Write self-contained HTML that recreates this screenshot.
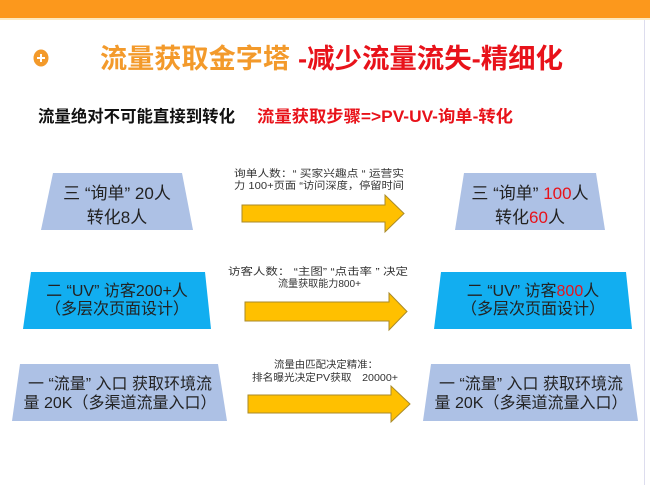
<!DOCTYPE html>
<html><head><meta charset="utf-8"><style>
html,body{margin:0;padding:0;background:#fff;}
svg{display:block;}
text{font-family:"Liberation Sans","Noto Sans CJK SC",sans-serif;}
</style></head><body>
<svg width="650" height="485" viewBox="0 0 650 485" xmlns="http://www.w3.org/2000/svg">
<rect x="0" y="0" width="650" height="18" fill="#fc981c"/>
<rect x="0" y="18" width="650" height="2" fill="#fde9c0"/>
<line x1="644.5" y1="20" x2="644.5" y2="485" stroke="#dde" stroke-width="1"/>
<ellipse cx="41" cy="58" rx="7.5" ry="8.5" fill="#f39a2b"/>
<path d="M37 58h8M41 54v8" stroke="#fff" stroke-width="2"/>
<text x="100" y="68" font-size="27" font-weight="bold" fill="#f39a2b" textLength="190" lengthAdjust="spacingAndGlyphs">流量获取金字塔</text>
<text x="298" y="68" font-size="27" font-weight="bold" fill="#e8121a" textLength="265" lengthAdjust="spacingAndGlyphs">-减少流量流失-精细化</text>
<text x="38" y="122" font-size="16.5" font-weight="bold" fill="#111" textLength="197" lengthAdjust="spacingAndGlyphs">流量绝对不可能直接到转化</text>
<text x="257" y="122" font-size="16.5" font-weight="bold" fill="#e8121a" textLength="256" lengthAdjust="spacingAndGlyphs">流量获取步骤=&gt;PV-UV-询单-转化</text>

<!-- row1 -->
<polygon points="53,173 182,173 193,230 41,230" fill="#adc1e5"/>
<polygon points="464,173 596,173 605,230 455,230" fill="#adc1e5"/>
<g font-size="17" fill="#222" text-anchor="middle">
<text x="117" y="199">三 “询单” 20人</text>
<text x="117" y="223">转化8人</text>
<text x="530" y="199">三 “询单” <tspan fill="#e8121a">100</tspan>人</text>
<text x="530" y="223">转化<tspan fill="#e8121a">60</tspan>人</text>
</g>
<polygon points="242,205 385,205 385,195 404,213.5 385,232 385,222 242,222" fill="#ffc000" stroke="#a88a2a" stroke-width="1"/>
<g font-size="10" fill="#333">
<text x="234" y="177" textLength="170" lengthAdjust="spacingAndGlyphs">询单人数：“ 买家兴趣点 “ 运营实</text>
<text x="234" y="189" textLength="170" lengthAdjust="spacingAndGlyphs">力 100+页面 “访问深度，停留时间</text>
</g>

<!-- row2 -->
<polygon points="31,272 205,272 211,329 23,329" fill="#12aef0"/>
<polygon points="441,272 626,272 632,329 434,329" fill="#12aef0"/>
<g font-size="16" fill="#222" text-anchor="middle">
<text x="117" y="296">二 “UV” 访客200+人</text>
<text x="117" y="314">（多层次页面设计）</text>
<text x="533" y="296">二 “UV” 访客<tspan fill="#e8121a">800</tspan>人</text>
<text x="533" y="314">（多层次页面设计）</text>
</g>
<polygon points="245,302 389,302 389,293 407,311.5 389,330 389,321 245,321" fill="#ffc000" stroke="#a88a2a" stroke-width="1"/>
<g font-size="10" fill="#333">
<text x="228" y="275" textLength="180" lengthAdjust="spacingAndGlyphs">访客人数： “主图” “点击率 ” 决定</text>
<text x="278" y="287" textLength="83" lengthAdjust="spacingAndGlyphs">流量获取能力800+</text>
</g>

<!-- row3 -->
<polygon points="20,364 218,364 227,421 12,421" fill="#adc1e5"/>
<polygon points="431,364 630,364 638,421 423,421" fill="#adc1e5"/>
<g font-size="16" fill="#222" text-anchor="middle">
<text x="120" y="389">一 “流量” 入口 获取环境流</text>
<text x="120" y="408">量 20K（多渠道流量入口）</text>
<text x="531" y="389">一 “流量” 入口 获取环境流</text>
<text x="531" y="408">量 20K（多渠道流量入口）</text>
</g>
<polygon points="248,395 391,395 391,386 410,404 391,422 391,413 248,413" fill="#ffc000" stroke="#a88a2a" stroke-width="1"/>
<g font-size="10" fill="#333">
<text x="274" y="368" textLength="104" lengthAdjust="spacingAndGlyphs">流量由匹配决定精准：</text>
<text x="252" y="381" textLength="146" lengthAdjust="spacingAndGlyphs">排名曝光决定PV获取　20000+</text>
</g>
</svg>
</body></html>
